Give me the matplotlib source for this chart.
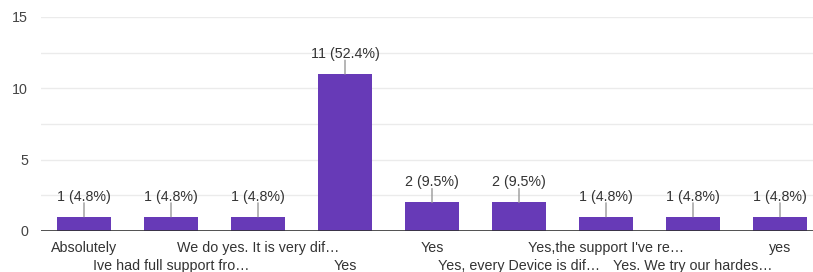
import matplotlib
matplotlib.use("Agg")
import matplotlib.pyplot as plt

# answers (truncated as shown in the chart) and response counts
answers = [
    "Absolutely",
    "Ive had full support fro…",
    "We do yes. It is very dif…",
    "Yes",
    "Yes",
    "Yes, every Device is dif…",
    "Yes,the support I've re…",
    "Yes. We try our hardes…",
    "yes",
]
counts = [1, 1, 1, 11, 2, 2, 1, 1, 1]
total = 21
y_ticks = [0, 5, 10, 15]
grid_levels = [0, 2.5, 5, 7.5, 10, 12.5, 15]

plt.rcParams["font.family"] = ["Liberation Sans", "DejaVu Sans"]
FS = 10.3

W, H = 813, 272
fig = plt.figure(figsize=(W / 100, H / 100), dpi=100)
ax = fig.add_axes([40.5 / W, (H - 231) / H, 783 / W, 214 / H])

x = list(range(len(answers)))
ax.bar(x, counts, width=0.62, color="#673ab7", zorder=3)

for lvl in grid_levels[1:]:
    ax.axhline(lvl, color="#ebebeb", lw=1, zorder=1)
ax.axhline(0, color="#333333", lw=1.2, zorder=4)

for xi, c in zip(x, counts):
    ax.annotate("", xy=(xi, c), xytext=(0, 10), textcoords="offset points",
                arrowprops=dict(arrowstyle="-", color="#999999", lw=1,
                                shrinkA=0, shrinkB=0))
    ax.annotate(f"{c} ({c / total * 100:.1f}%)", xy=(xi, c), xytext=(0, 14.5),
                textcoords="offset points", ha="center", va="center",
                fontsize=FS, color="#333333")

ax.set_xlim(-0.5, len(answers) - 0.5)
ax.set_ylim(0, 15)
ax.set_yticks(y_ticks)
ax.set_yticklabels([str(t) for t in y_ticks], fontsize=FS, color="#444444")

# alternate the category labels over two rows
ax.set_xticks(x[0::2], answers[0::2], fontsize=FS, color="#333333")
ax.set_xticks(x[1::2], answers[1::2], minor=True, fontsize=FS, color="#333333")
ax.tick_params(axis="y", length=0, pad=9)
ax.tick_params(axis="x", which="major", length=0, pad=7)
ax.tick_params(axis="x", which="minor", length=0, pad=20)
for s in ax.spines.values():
    s.set_visible(False)

fig.savefig("out.png", dpi=100)
